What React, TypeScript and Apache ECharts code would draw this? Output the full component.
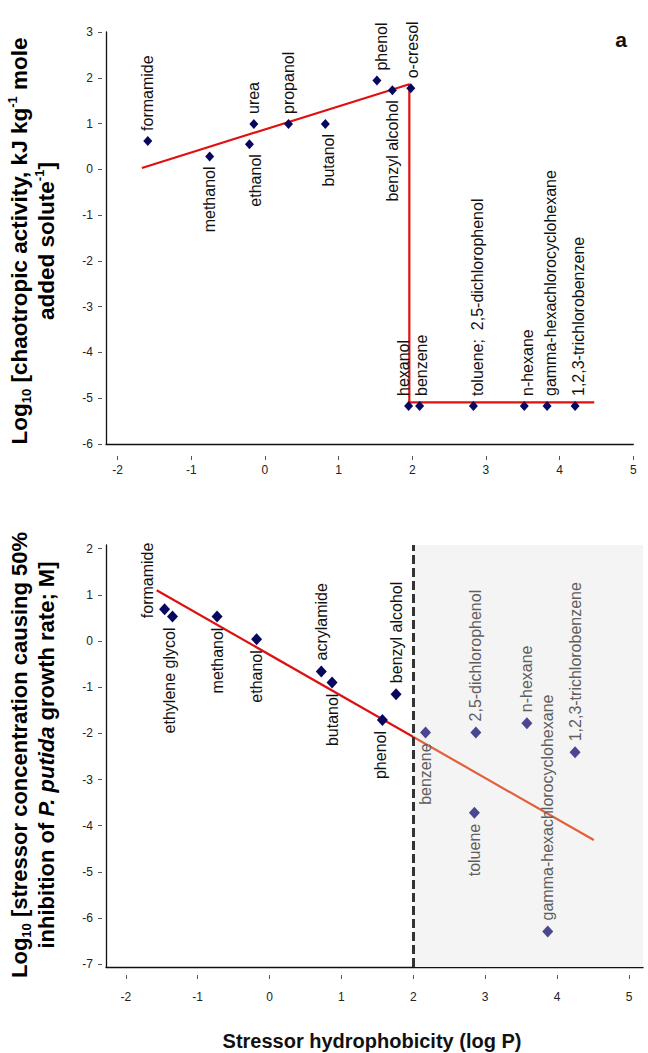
import React, { useEffect, useRef } from "react";
import * as echarts from "echarts";

// ---------- Panel a: chaotropic activity ----------
const chaoNames = [
  "formamide", "methanol", "ethanol", "urea", "propanol", "butanol", "phenol",
  "benzyl alcohol", "o-cresol", "hexanol", "benzene", "toluene;  2,5-dichlorophenol",
  "n-hexane", "gamma-hexachlorocyclohexane", "1,2,3-trichlorobenzene",
];
const chaoLogP = [-1.59, -0.75, -0.21, -0.15, 0.32, 0.82, 1.52, 1.73, 1.98, 1.95, 2.1, 2.83, 3.52, 3.83, 4.21];
const chaoActivity = [0.62, 0.28, 0.55, 0.99, 0.99, 0.99, 1.94, 1.73, 1.77, -5.17, -5.17, -5.17, -5.17, -5.17, -5.17];
const chaoTrendLogP = [-1.67, 1.96, 1.96, 4.47];
const chaoTrendActivity = [0.03, 1.86, -5.09, -5.09];

// ---------- Panel b: growth inhibition ----------
const inhibNames = [
  "formamide", "ethylene glycol", "methanol", "ethanol", "acrylamide", "butanol", "phenol",
  "benzyl alcohol", "benzene", "toluene", "2,5-dichlorophenol", "n-hexane",
  "gamma-hexachlorocyclohexane", "1,2,3-trichlorobenzene",
];
const inhibLogP = [-1.46, -1.35, -0.73, -0.18, 0.72, 0.87, 1.57, 1.76, 2.17, 2.85, 2.87, 3.58, 3.87, 4.25];
const inhibConc = [0.69, 0.53, 0.53, 0.04, -0.66, -0.9, -1.71, -1.15, -1.98, -3.72, -1.98, -1.78, -6.29, -2.41];
const inhibTrendLogP = [-1.57, 4.51];
const inhibTrendConc = [1.1, -4.31];

// ---------- ticks ----------
const logPTicks = [-2, -1, 0, 1, 2, 3, 4, 5];
const chaoTicks = [-6, -5, -4, -3, -2, -1, 0, 1, 2, 3];
const inhibTicks = [-7, -6, -5, -4, -3, -2, -1, 0, 1, 2];
const hydrophobicThreshold = 2;

// ---------- layout / style ----------
const FONT = '"Liberation Sans", Arial, Helvetica, sans-serif';
const A = { xMin: -2.157, xMax: 5, yMin: -6, yMax: 3 };
const B = { xMin: -2.275, xMax: 5.195, yMin: -7.06, yMax: 2.08 };
const NAVY = "#07075f";
const NAVY_LIGHT = "#4a4690";

const chaoBelow = new Set(["methanol", "ethanol", "butanol", "benzyl alcohol"]);
const inhibBelow = new Set(["ethylene glycol", "methanol", "ethanol", "butanol", "phenol", "benzene", "toluene"]);
// label nudges in screen pixels [right, down]
const chaoShift: Record<string, number[]> = {
  hexanol: [-5, 0], "toluene;  2,5-dichlorophenol": [4, 0], phenol: [5, 0], ethanol: [6, 0],
  butanol: [3, 0], "o-cresol": [2, 0], benzene: [2, 0], "n-hexane": [3, 0],
  "gamma-hexachlorocyclohexane": [3, 0], "1,2,3-trichlorobenzene": [3, 0],
};
const inhibShift: Record<string, number[]> = {
  formamide: [-17, 20], "ethylene glycol": [-3, 0], phenol: [-2, 0],
};

function pointLabel(below: boolean, shift: number[] | undefined, color: string) {
  const s = shift || [0, 0];
  return {
    show: true,
    formatter: "{b}",
    rotate: 90,
    position: below ? "bottom" : "top",
    align: below ? "right" : "left",
    verticalAlign: "middle",
    distance: 5,
    // offset is applied in the rotated text frame
    offset: [-s[1], s[0]],
    color,
    fontSize: 16,
    fontFamily: FONT,
  };
}

function lineAxis(gridIndex: number, min: number, max: number) {
  return {
    type: "value", gridIndex, min, max,
    axisLine: { show: true, onZero: false, lineStyle: { color: "#111", width: 1.3 } },
    axisTick: { show: false }, axisLabel: { show: false }, splitLine: { show: false },
  };
}
function tickAxis(gridIndex: number, min: number, max: number, ticks: number[], position: string, offset: number, len: number, margin: number) {
  return {
    type: "value", gridIndex, min, max, position, offset,
    axisLine: { show: false, onZero: false },
    axisTick: { show: true, length: len, customValues: ticks, lineStyle: { color: "#555", width: 1 } },
    axisLabel: { show: true, customValues: ticks, margin, fontSize: 12, color: "#222", fontFamily: FONT },
    splitLine: { show: false },
  };
}

const richTitle = (size: number) => ({
  b: { fontSize: size, fontWeight: "bold", fontFamily: FONT, color: "#111", lineHeight: 27 },
  i: { fontSize: size, fontWeight: "bold", fontStyle: "italic", fontFamily: FONT, color: "#111", lineHeight: 27 },
  sub: { fontSize: 13, fontWeight: "bold", fontFamily: FONT, color: "#111", verticalAlign: "bottom", lineHeight: 14 },
  sup: { fontSize: 13, fontWeight: "bold", fontFamily: FONT, color: "#111", verticalAlign: "top", lineHeight: 14 },
});

function buildOption() {
  const itemsA = chaoNames.map((n, i) => ({
    name: n,
    value: [chaoLogP[i], chaoActivity[i]],
    label: pointLabel(chaoBelow.has(n), chaoShift[n], "#111"),
  }));
  const itemsB = inhibNames.map((n, i) => {
    const hydro = inhibLogP[i] >= hydrophobicThreshold;
    return {
      name: n,
      value: [inhibLogP[i], inhibConc[i]],
      itemStyle: { color: hydro ? NAVY_LIGHT : NAVY, opacity: 1 },
      label: pointLabel(inhibBelow.has(n), inhibShift[n], hydro ? "#5e5e5e" : "#111"),
    };
  });

  return {
    animation: false,
    backgroundColor: "#ffffff",
    grid: [
      { left: 106, top: 32, width: 527.3, height: 412 },
      { left: 106, top: 545, width: 537, height: 422 },
    ],
    xAxis: [
      { ...lineAxis(0, A.xMin, A.xMax), position: "bottom" },
      tickAxis(0, A.xMin, A.xMax, logPTicks, "bottom", 12, 4, 8),
      { ...lineAxis(1, B.xMin, B.xMax), position: "bottom" },
      tickAxis(1, B.xMin, B.xMax, logPTicks, "bottom", 8, 4, 16),
    ],
    yAxis: [
      { ...lineAxis(0, A.yMin, A.yMax), position: "left" },
      tickAxis(0, A.yMin, A.yMax, chaoTicks, "left", 4, 4, 9),
      { ...lineAxis(1, B.yMin, B.yMax), position: "left" },
      tickAxis(1, B.yMin, B.yMax, inhibTicks, "left", 4, 4, 9),
    ],
    visualMap: [
      {
        type: "piecewise", show: false, seriesIndex: 3, dimension: 0,
        pieces: [
          { gte: B.xMin, lt: hydrophobicThreshold, color: "#dd1111" },
          { gte: hydrophobicThreshold, lte: B.xMax, color: "#e2603c" },
        ],
      },
    ],
    series: [
      {
        type: "line", xAxisIndex: 0, yAxisIndex: 0, z: 2, silent: true,
        data: chaoTrendLogP.map((x, i) => [x, chaoTrendActivity[i]]),
        symbol: "none", lineStyle: { color: "#e01010", width: 2.2 },
      },
      {
        type: "scatter", xAxisIndex: 0, yAxisIndex: 0, z: 3,
        data: itemsA, symbol: "diamond", symbolSize: [9, 10],
        itemStyle: { color: NAVY, opacity: 1 },
      },
      {
        type: "line", xAxisIndex: 2, yAxisIndex: 2, z: 1, data: [], silent: true,
        markArea: {
          silent: true, itemStyle: { color: "#f4f4f4" },
          data: [[{ xAxis: hydrophobicThreshold }, { xAxis: B.xMax }]],
        },
        markLine: {
          silent: true, symbol: ["none", "none"], label: { show: false },
          lineStyle: { type: [9, 4], color: "#333", width: 3 },
          data: [{ xAxis: hydrophobicThreshold }],
        },
      },
      {
        type: "line", xAxisIndex: 2, yAxisIndex: 2, z: 2, silent: true,
        data: inhibTrendLogP.map((x, i) => [x, inhibTrendConc[i]]),
        symbol: "none", lineStyle: { width: 2.2 },
      },
      {
        type: "scatter", xAxisIndex: 2, yAxisIndex: 2, z: 3,
        data: itemsB, symbol: "diamond", symbolSize: [11, 12],
      },
    ],
    graphic: [
      {
        type: "text", x: 33, y: 241, rotation: Math.PI / 2,
        style: {
          text: "{b|Log}{sub|10}{b| [chaotropic activity, kJ kg}{sup|-1}{b| mole}\n{b|added solute}{sup|-1}{b|]}",
          rich: richTitle(22.5), align: "center", verticalAlign: "middle",
        },
      },
      {
        type: "text", x: 33, y: 755, rotation: Math.PI / 2,
        style: {
          text: "{b|Log}{sub|10}{b| [stressor concentration causing 50%}\n{b|inhibition of }{i|P. putida}{b| growth rate; M]}",
          rich: richTitle(22), align: "center", verticalAlign: "middle",
        },
      },
      {
        type: "text", x: 372, y: 1041,
        style: {
          text: "Stressor hydrophobicity (log P)", font: `bold 20px ${FONT}`, fill: "#111",
          align: "center", verticalAlign: "middle",
        },
      },
      {
        type: "text", x: 621, y: 39,
        style: { text: "a", font: `bold 21px ${FONT}`, fill: "#111", align: "center", verticalAlign: "middle" },
      },
      {
        type: "text", x: 620, y: 561,
        style: { text: "b", font: `bold 21px ${FONT}`, fill: "#555", align: "center", verticalAlign: "middle" },
      },
    ],
  };
}

export default function App() {
  const ref = useRef<HTMLDivElement>(null);
  useEffect(() => {
    const chart = echarts.init(ref.current as HTMLDivElement, null, { renderer: "svg" });
    chart.setOption(buildOption() as any);
    return () => chart.dispose();
  }, []);
  return (
    <div
      ref={ref}
      style={{ position: "absolute", left: 0, top: 0, width: 648, height: 1053, background: "#fff" }}
    />
  );
}
